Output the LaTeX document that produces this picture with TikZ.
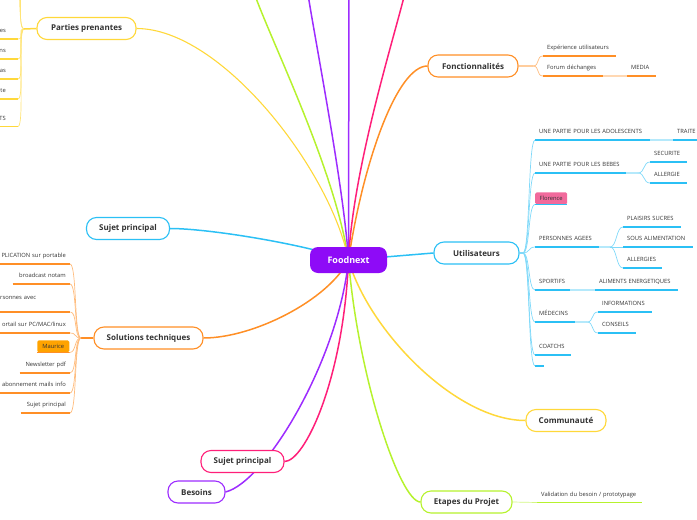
\documentclass[tikz,border=0pt]{standalone}
\usepackage{fontspec}
\setmainfont{Open Sans}
\usetikzlibrary{backgrounds}

\definecolor{cPurple}{HTML}{8E0BF7}
\definecolor{cYellow}{HTML}{FFD83A}
\definecolor{cOrange}{HTML}{FF8F26}
\definecolor{cBlue}{HTML}{2BC0F5}
\definecolor{cPink}{HTML}{FF1F79}
\definecolor{cViolet}{HTML}{9D2CFF}
\definecolor{cLime}{HTML}{B6F22E}
\definecolor{cRose}{HTML}{F16A9C}
\definecolor{cAmber}{HTML}{FFA300}
\definecolor{cText}{HTML}{333333}

\newcommand{\leaffont}{\fontsize{5.8}{6.8}\selectfont}

\begin{document}
\begin{tikzpicture}[
    x=1pt, y=-1pt,
    topic/.style={draw=#1, fill=white, line width=1.1pt, rounded corners=10pt,
                  minimum height=22pt, inner xsep=8pt, text=cText,
                  font=\fontsize{8}{9.5}\selectfont\bfseries},
    leaf/.style={anchor=south west, align=left, text width=#1, inner xsep=4pt,
                 inner ysep=3.8pt, text=cText, font=\leaffont,
                 execute at begin node=\strut},
    leafL/.style={leaf=#1, anchor=south east, align=right},
    uline/.style={append after command={(\tikzlastnode.south west)
                  edge[draw=#1, line width=1.3pt] (\tikzlastnode.south east)}},
    tag/.style={fill=#1, rounded corners=1.5pt, inner sep=0pt, minimum height=12pt,
                minimum width=32pt, text=cText, font=\leaffont},
    branchR/.style={to path={.. controls +(7,0) and +(-7,0) .. (\tikztotarget)}},
    branchL/.style={to path={.. controls +(-7,0) and +(7,0) .. (\tikztotarget)}},
    twig/.style={line width=0.7pt},
    limb/.style={line width=1.5pt}
]
\useasboundingbox (0,0) rectangle (697,520);

\node[fill=cPurple, rounded corners=8pt, minimum width=77pt, minimum height=26pt,
      text=white, font=\fontsize{9}{11}\selectfont\bfseries] (food) at (348.5,260) {Foodnext};

\node[topic=cYellow, minimum width=99pt] (pp) at (86.5,28.5) {Parties prenantes};
\node[topic=cOrange, minimum width=90pt] (fonc) at (473,66) {Fonctionnalités};
\node[topic=cBlue, minimum width=85pt] (util) at (476.5,253) {Utilisateurs};
\node[topic=cYellow, minimum width=80pt] (comm) at (566,420.5) {Communauté};
\node[topic=cLime, minimum width=91pt] (etap) at (466.5,502) {Etapes du Projet};
\node[topic=cPink, minimum width=83pt] (sujp) at (242.5,461.5) {Sujet principal};
\node[topic=cViolet, minimum width=57pt] (bes) at (196.5,492) {Besoins};
\node[topic=cBlue, minimum width=83pt] (sujb) at (128,228.5) {Sujet principal};
\node[topic=cOrange, minimum width=109pt] (sol) at (148.5,338) {Solutions techniques};

% parties prenantes
\node[leafL=30pt, inner xsep=12pt, uline=cYellow] (pp1) at (18,39) {es};
\node[leafL=30pt, inner xsep=12pt, uline=cYellow] (pp2) at (18,59) {ns};
\node[leafL=30pt, inner xsep=12pt, uline=cYellow] (pp3) at (18,79) {as};
\node[leafL=30pt, inner xsep=12pt, uline=cYellow] (pp4) at (18,99) {te};
\node[leafL=30pt, inner xsep=12pt, uline=cYellow] (pp5) at (18,126.5) {TS};
\coordinate (ppj) at (24,29);
\coordinate (pptop1) at (17,-12);
\coordinate (pptop2) at (15,-35);

% fonctionnalites
\node[leaf=65pt, uline=cOrange] (exp) at (543,56) {Expérience utilisateurs};
\node[leaf=52pt, uline=cOrange] (forum) at (543,76) {Forum déchanges};
\node[leaf=21pt, uline=cOrange] (media) at (627,76) {MEDIA};
\coordinate (foncj) at (533,66);

% utilisateurs
\node[leaf=107pt, uline=cBlue] (ado) at (535,140) {UNE PARTIE POUR LES ADOLESCENTS};
\node[leaf=40pt, uline=cBlue] (trait) at (673,140) {TRAITE};
\node[leaf=83pt, uline=cBlue] (bebe) at (535,173) {UNE PARTIE POUR LES BEBES};
\node[leaf=29pt, uline=cBlue] (secu) at (650,162) {SECURITE};
\node[leaf=29pt, uline=cBlue] (allg) at (650,183) {ALLERGIE};
\node[tag=cRose, anchor=south west, uline=cBlue] (flo) at (535,204.5) {Florence};
\node[leaf=56pt, uline=cBlue] (ages) at (535,247) {PERSONNES AGEES};
\node[leaf=50pt, uline=cBlue] (sucre) at (623,227) {PLAISIRS SUCRES};
\node[leaf=62pt, uline=cBlue] (sousal) at (623,247) {SOUS ALIMENTATION};
\node[leaf=31pt, uline=cBlue] (allgs) at (623,268) {ALLERGIES};
\node[leaf=27pt, uline=cBlue] (sport) at (535,290) {SPORTIFS};
\node[leaf=75pt, uline=cBlue] (alim) at (595,290) {ALIMENTS ENERGETIQUES};
\node[leaf=32pt, uline=cBlue] (med) at (535,322) {MÉDECINS};
\node[leaf=46pt, uline=cBlue] (info) at (598,312) {INFORMATIONS};
\node[leaf=30pt, uline=cBlue] (cons) at (598,333) {CONSEILS};
\node[leaf=28pt, uline=cBlue] (coat) at (535,355) {COATCHS};
\node[leaf=1pt, uline=cBlue] (vide) at (535,366) {};
\coordinate (utilj) at (523,253);
\coordinate (bebej) at (638,173);
\coordinate (agesj) at (610,247);
\coordinate (medj) at (587,322);

% solutions techniques
\node[leafL=80pt, uline=cOrange] (appli) at (70,264) {PLICATION sur portable};
\node[leafL=49pt, uline=cOrange] (broad) at (70,284) {broadcast notam};
\node[leaf=66pt, text depth=9pt, uline=cOrange] (pers) at (-4,312) {rsonnes avec};
\node[leafL=80pt, uline=cOrange] (port) at (70,333) {ortail sur PC/MAC/linux};
\node[tag=cAmber, anchor=south east, uline=cOrange] (mau) at (69.5,352.5) {Maurice};
\node[leafL=42pt, uline=cOrange] (news) at (70,373) {Newsletter pdf};
\node[leafL=80pt, uline=cOrange] (abon) at (70,393) {abonnement mails info};
\node[leafL=41pt, uline=cOrange] (sujet) at (70,413) {Sujet principal};
\coordinate (solj) at (81,338);

% etapes
\node[leaf=97pt, uline=cLime] (valid) at (537,502.5) {Validation du besoin / prototypage};

% branches beyond the page
\coordinate (offLime) at (250,-20);
\coordinate (offViolet) at (306,-20);
\coordinate (offPurple) at (349,-20);
\coordinate (offPink) at (408,-20);

\begin{scope}[on background layer]
  \draw[cLime, limb] (food.center) .. controls +(-15,-100) and +(10,40) .. (offLime);
  \draw[cViolet, limb] (food.center) .. controls +(-5,-80) and +(3,30) .. (offViolet);
  \draw[cViolet, limb] (food.center) -- (offPurple);
  \draw[cPink, limb] (food.center) .. controls +(5,-100) and +(-8,40) .. (offPink);
  \draw[cYellow, line width=1.1pt] (food.center) .. controls +(-18,-90) and +(85,0) .. (pp.east);
  \draw[cOrange, limb] (food.center) .. controls +(15,-100) and +(-30,0) .. (fonc.west);
  \draw[cBlue, limb] (food.center) -- (util.west);
  \draw[cYellow, limb] (food.center) .. controls +(20,70) and +(-70,0) .. (comm.west);
  \draw[cLime, limb] (food.center) .. controls +(10,120) and +(-20,0) .. (etap.west);
  \draw[cPink, limb] (food.center) .. controls +(-5,120) and +(20,0) .. (sujp.east);
  \draw[cViolet, limb] (food.center) .. controls +(-10,100) and +(40,-10) .. (bes.east);
  \draw[cOrange, limb] (food.center) .. controls +(-20,40) and +(50,0) .. (sol.east);
  \draw[cBlue, limb] (food.center) .. controls +(-40,-15) and +(40,0) .. (sujb.east);
\end{scope}

\draw[cYellow, line width=1.5pt] (pp.west) -- (ppj);
\foreach \n in {pptop1,pptop2}
  \draw[cYellow!70, twig] (ppj) to[branchL] (\n);
\foreach \n in {pp1,pp2,pp3,pp4,pp5}
  \draw[cYellow!70, twig] (ppj) to[branchL] (\n.south east);

\draw[cOrange!45, line width=1.5pt] (fonc.east) -- (foncj);
\foreach \n in {exp,forum}
  \draw[cOrange!60, twig] (foncj) to[branchR] (\n.south west);
\draw[cOrange!35, line width=1.3pt] (forum.south east) -- (media.south west);

\draw[cBlue!60, line width=1.3pt] (util.east) -- (utilj);
\foreach \n in {ado,bebe,flo,ages,sport,med,coat,vide}
  \draw[cBlue!60, twig] (utilj) to[branchR] (\n.south west);
\draw[cBlue!35, line width=1.3pt] (ado.south east) -- (trait.south west);
\draw[cBlue!35, line width=1.3pt] (sport.south east) -- (alim.south west);
\draw[cBlue!35, line width=1.3pt] (bebe.south east) -- (bebej);
\draw[cBlue!35, line width=1.3pt] (ages.south east) -- (agesj);
\draw[cBlue!35, line width=1.3pt] (med.south east) -- (medj);
\foreach \n in {secu,allg}
  \draw[cBlue!60, twig] (bebej) to[branchR] (\n.south west);
\foreach \n in {sucre,sousal,allgs}
  \draw[cBlue!60, twig] (agesj) to[branchR] (\n.south west);
\foreach \n in {info,cons}
  \draw[cBlue!60, twig] (medj) to[branchR] (\n.south west);

\draw[cOrange, line width=1.5pt] (sol.west) -- (solj);
\foreach \n in {appli,broad,pers,port,mau,news,abon,sujet}
  \draw[cOrange!60, twig] (solj) to[branchL] (\n.south east);

\draw[cLime!60, twig] (etap.east) -- (valid.south west);

\end{tikzpicture}
\end{document}
